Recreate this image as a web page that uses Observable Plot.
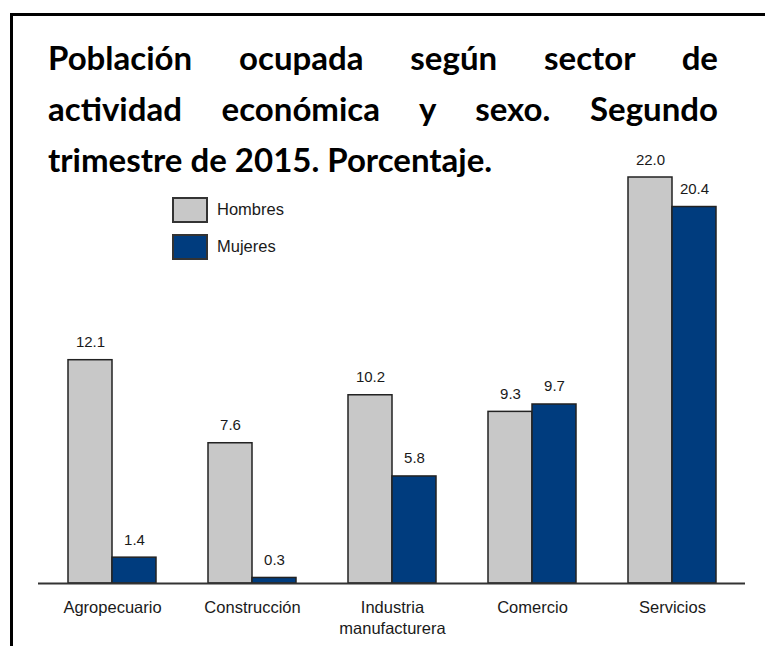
<!DOCTYPE html>
<html>
<head>
<meta charset="utf-8">
<script src="https://cdn.jsdelivr.net/npm/d3@7"></script>
<script src="https://cdn.jsdelivr.net/npm/@observablehq/plot@0.6"></script>
<style>
  html, body { margin: 0; padding: 0; background: #fff; }
  #wrap { position: relative; width: 765px; height: 646px; overflow: hidden; background: #fff; }
  #frame { position: absolute; left: 10px; top: 13px; width: 800px; height: 700px;
           border-left: 3px solid #000; border-top: 3px solid #000; box-sizing: border-box; }
  #chart { position: absolute; left: 0; top: 0; }
  #title { position: absolute; left: 48px; top: 32px; width: 670px;
           font-family: Lato, "Open Sans", sans-serif; font-weight: 700; font-size: 33px; color: #000; }
  #title div { height: 51px; line-height: 51px; white-space: nowrap; }
  #title .j { text-align: justify; text-align-last: justify; white-space: normal; overflow: hidden; }
  .leg { position: absolute; font-family: "Liberation Sans", Arial, sans-serif; font-size: 16.5px; color: #1a1a1a; }
  .sw { position: absolute; width: 36px; height: 26px; box-sizing: border-box; border: 2px solid #333; }
</style>
</head>
<body>
<div id="wrap">
  <div id="frame"></div>
  <div id="chart"></div>
  <div id="title"></div>
  <div id="legend"></div>
</div>
<script>
const sectors = ["Agropecuario", "Construcción", "Industria manufacturera", "Comercio", "Servicios"];
const tickLabels = ["Agropecuario", "Construcción", "Industria\nmanufacturera", "Comercio", "Servicios"];
const hombres = [12.1, 7.6, 10.2, 9.3, 22.0];
const mujeres = [1.4, 0.3, 5.8, 9.7, 20.4];
const seriesNames = ["Hombres", "Mujeres"];
const seriesColors = ["#c8c8c8", "#003c7e"];
const titleLines = ["Población ocupada según sector de", "actividad económica y sexo. Segundo", "trimestre de 2015. Porcentaje."];

const data = sectors.map((s, i) => ({sector: s, hombres: hombres[i], mujeres: mujeres[i]}));
const fmt = v => v.toFixed(1);
const labelMap = new Map(sectors.map((s, i) => [s, tickLabels[i]]));

const chart = Plot.plot({
  width: 765,
  height: 646,
  marginTop: 177,
  marginBottom: 63,
  marginLeft: 38,
  marginRight: 20,
  style: {fontFamily: "'Liberation Sans', Arial, sans-serif", background: "transparent", color: "#1a1a1a"},
  x: {domain: sectors, paddingInner: 0.687, paddingOuter: 0.36, axis: null, label: null},
  y: {domain: [0, 22], axis: null, label: null},
  marks: [
    Plot.barY(data, {x: "sector", y: "hombres", dx: -22, fill: seriesColors[0], stroke: "#222", strokeWidth: 1.5}),
    Plot.barY(data, {x: "sector", y: "mujeres", dx: 22, fill: seriesColors[1], stroke: "#222", strokeWidth: 1.5}),
    Plot.text(data, {x: "sector", y: "hombres", text: d => fmt(d.hombres), dx: -22, dy: -13, lineAnchor: "bottom", fontSize: 15, fill: "#1a1a1a"}),
    Plot.text(data, {x: "sector", y: "mujeres", text: d => fmt(d.mujeres), dx: 22, dy: -13, lineAnchor: "bottom", fontSize: 15, fill: "#1a1a1a"}),
    Plot.ruleY([0], {stroke: "#333", strokeWidth: 2}),
    Plot.axisX({tickSize: 0, tickPadding: 14, fontSize: 16.5, lineHeight: 1.3, label: null, tickFormat: d => labelMap.get(d), fill: "#1a1a1a"})
  ]
});
document.getElementById("chart").appendChild(chart);

const title = document.getElementById("title");
titleLines.forEach((t, i) => {
  const d = document.createElement("div");
  d.textContent = t;
  if (i < titleLines.length - 1) d.className = "j";
  title.appendChild(d);
});

const legend = document.getElementById("legend");
const legTops = [197, 234];
seriesNames.forEach((n, i) => {
  const sw = document.createElement("div");
  sw.className = "sw";
  sw.style.left = "172px";
  sw.style.top = legTops[i] + "px";
  sw.style.background = seriesColors[i];
  legend.appendChild(sw);
  const tx = document.createElement("div");
  tx.className = "leg";
  tx.style.left = "217px";
  tx.style.top = (legTops[i] + 3) + "px";
  tx.textContent = n;
  legend.appendChild(tx);
});
</script>
</body>
</html>
